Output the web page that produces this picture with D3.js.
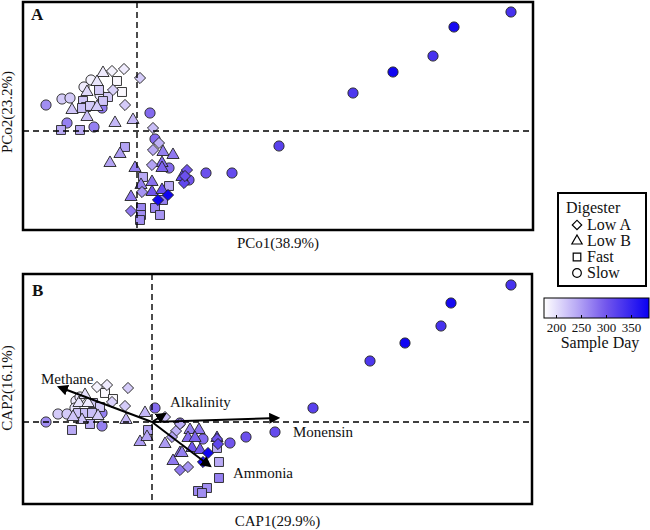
<!DOCTYPE html>
<html><head><meta charset="utf-8">
<script src="https://cdn.jsdelivr.net/npm/d3@7"></script>
<style>body{margin:0;background:#fff}</style>
</head><body><svg id="c" width="650" height="530" font-family="Liberation Serif, DejaVu Serif, serif"></svg>
<script>
// ---------- DATA: [axis1, axis2, sampleDay] ----------
const pcoaLowA = [[-0.25,0.60,185],[-0.13,0.62,190],[0.03,0.53,215],[-0.12,0.26,215],[-0.24,0.41,210],[0.16,0.03,225],[0.22,-0.12,235],[0.16,-0.19,240],[0.15,-0.34,245],[0.50,-0.39,300],[0.47,-0.52,315],[0.48,-0.45,305],[0.31,-0.64,380],[0.21,-0.69,380],[-0.06,-0.80,275],[0.05,-0.61,255]];
const pcoaLowB = [[-0.34,0.58,190],[-0.40,0.49,195],[-0.50,0.39,205],[-0.65,0.21,220],[-0.50,0.14,225],[-0.40,0.24,215],[-0.22,0.08,230],[-0.04,0.11,230],[0.26,-0.21,270],[0.36,-0.24,275],[-0.27,-0.32,245],[-0.17,-0.23,250],[-0.02,-0.37,270],[0.25,-0.32,285],[0.25,-0.37,290],[0.15,-0.51,280],[0.04,-0.54,270],[-0.06,-0.66,275],[0.15,-0.61,300],[0.45,-0.46,320],[0.25,-0.59,310]];
const pcoaFast = [[-0.20,0.50,180],[-0.15,0.39,180],[-0.29,0.34,215],[-0.38,0.41,215],[-0.34,0.30,220],[-0.54,0.30,220],[-0.51,0.24,225],[-0.55,0.23,225],[-0.47,0.25,215],[-0.76,0.01,240],[-0.57,0.01,240],[-0.12,-0.16,245],[0.06,-0.46,240],[0.32,-0.55,240],[0.26,-0.69,270],[0.18,-0.77,265],[0.23,-0.84,255],[0.04,-0.77,265],[0.04,-0.84,260],[0.03,-0.89,260]];
const pcoaSlow = [[-0.91,0.26,260],[-0.75,0.32,215],[-0.67,0.33,215],[-0.46,0.51,185],[-0.53,0.44,190],[-0.37,0.36,195],[-0.70,0.08,270],[-0.43,0.04,270],[-0.35,0.23,275],[0.13,0.18,285],[0.18,-0.08,285],[0.32,-0.37,285],[0.52,-0.49,300],[0.69,-0.42,305],[0.95,-0.42,310],[1.42,-0.15,320],[2.16,0.38,330],[2.56,0.59,380],[2.96,0.75,335],[3.17,1.04,375],[3.74,1.19,335]];

const capLowA = [[-0.55,0.35,185],[-0.45,0.37,190],[-0.24,0.34,215],[-0.27,0.16,215],[-0.40,0.20,210],[0.13,0.05,225],[0.24,-0.09,235],[0.28,-0.02,240],[0.20,-0.15,245],[0.28,-0.48,275],[0.36,-0.45,255],[0.65,-0.17,300],[0.66,-0.22,315],[0.56,-0.31,380],[0.51,-0.40,380]];
const capLowB = [[-0.73,0.19,195],[-0.64,0.19,190],[-0.67,0.27,200],[-0.70,0.02,220],[-0.79,0.05,220],[-0.54,0.06,215],[-0.26,0.02,230],[-0.07,0.09,230],[-0.12,-0.20,250],[-0.05,-0.15,245],[0.13,-0.22,250],[0.38,-0.08,270],[0.47,-0.08,275],[0.36,-0.16,285],[0.43,-0.16,290],[0.28,-0.31,280],[0.21,-0.39,275],[0.40,-0.26,300],[0.48,-0.28,300],[0.65,-0.16,320],[0.30,-0.31,270]];
const capFast = [[-0.47,0.29,180],[-0.39,0.23,180],[-0.59,0.19,215],[-0.52,0.15,215],[-0.74,0.09,220],[-0.67,0.09,225],[-0.60,0.09,225],[-0.62,-0.02,240],[-0.80,-0.08,240],[-0.04,-0.08,245],[0.65,-0.26,240],[0.67,-0.40,240],[0.67,-0.56,270],[0.46,-0.69,265],[0.55,-0.66,260],[0.50,-0.71,260]];
const capSlow = [[-1.06,0.00,260],[-0.94,0.08,215],[-0.85,0.08,215],[-0.76,0.21,190],[-0.72,0.25,190],[-0.77,0.14,195],[-0.50,-0.04,270],[-0.50,0.09,270],[0.03,0.14,285],[0.28,-0.01,285],[0.51,-0.17,285],[0.78,-0.21,300],[0.94,-0.15,305],[1.23,-0.10,310],[1.61,0.14,320],[2.18,0.61,330],[2.53,0.79,380],[2.89,0.96,335],[2.99,1.19,375],[3.59,1.37,335]];

const vectorNames = ["Methane","Alkalinity","Monensin","Ammonia"];
const vectorX = [-0.93, 0.13, 1.26, 0.58];
const vectorY = [0.35, 0.08, 0.04, -0.44];

const digesters = ["Low A","Low B","Fast","Slow"];
const dayTicks = [200,250,300,350];
const dayRange = [175,385];

// ---------- LAYOUT ----------
const svg = d3.select("#c");
const FONT = "Liberation Serif, DejaVu Serif, serif";
const color = d3.scaleLinear().domain([175,240,300,385]).range(["#ffffff","#b9aaf5","#7155ec","#0a00f2"]).interpolate(d3.interpolateRgb);

const shapes = {"Low A":"diamond","Low B":"triangle","Fast":"square","Slow":"circle"};
function symPath(kind, big){
  const k = big ? 1 : 0.72;
  if(kind==="circle") return d3.symbol(d3.symbolCircle, 82*k)();
  if(kind==="square") return d3.symbol(d3.symbolSquare, 80*k)();
  if(kind==="triangle") return d3.symbol(d3.symbolTriangle, 64*k)();
  return d3.symbol(d3.symbolSquare, 62*k)();
}

const panels = [
  {id:"A", box:[23,2,533,230], xd:[-1.14,3.96], yd:[-0.99,1.29], sets:[pcoaSlow,pcoaFast,pcoaLowB,pcoaLowA], xl:"PCo1(38.9%)", yl:"PCo2(23.2%)", xlY:248, ylY:112, lab:[31,20]},
  {id:"B", box:[23,274,532,504], xd:[-1.29,3.80], yd:[-0.82,1.48], sets:[capSlow,capFast,capLowB,capLowA], xl:"CAP1(29.9%)", yl:"CAP2(16.1%)", xlY:526, ylY:388, lab:[32,296]}
];
const setKinds = ["circle","square","triangle","diamond"];

svg.append("defs").append("marker").attr("id","ah").attr("viewBox","0 0 10 10")
  .attr("refX",8).attr("refY",5).attr("markerWidth",5.5).attr("markerHeight",5.5).attr("orient","auto")
  .append("path").attr("d","M0,0L10,5L0,10z").attr("fill","#000");

function txt(g){ return g.append("text").attr("font-family",FONT).attr("fill","#111"); }

panels.forEach(p=>{
  const [x0,y0,x1,y1] = p.box;
  const x = d3.scaleLinear().domain(p.xd).range([x0,x1]);
  const y = d3.scaleLinear().domain(p.yd).range([y1,y0]);
  const g = svg.append("g");
  p.sets.forEach((set,i)=>{
    const kind = setKinds[i];
    g.selectAll(null).data(set).enter().append("path")
      .attr("d", symPath(kind,true))
      .attr("transform", d=>`translate(${x(d[0])},${y(d[1])})` + (kind==="diamond"?" rotate(45)":""))
      .attr("fill", d=>color(d[2])).attr("stroke","#222").attr("stroke-width",0.9);
  });
  g.append("line").attr("x1",x0).attr("x2",x1).attr("y1",y(0)).attr("y2",y(0))
    .attr("stroke","#000").attr("stroke-width",1.4).attr("stroke-dasharray","6,4");
  g.append("line").attr("x1",x(0)).attr("x2",x(0)).attr("y1",y0).attr("y2",y1)
    .attr("stroke","#000").attr("stroke-width",1.4).attr("stroke-dasharray","6,4");
  if(p.id==="B"){
    const off = [[-18,-3],[5,-7],[15,19],[23,12]];
    vectorNames.forEach((n,i)=>{
      g.append("line").attr("x1",x(0)).attr("y1",y(0)).attr("x2",x(vectorX[i])).attr("y2",y(vectorY[i]))
        .attr("stroke","#000").attr("stroke-width",2).attr("marker-end","url(#ah)");
      txt(g).attr("x",x(vectorX[i])+off[i][0]).attr("y",y(vectorY[i])+off[i][1])
        .attr("font-size",15).text(n);
    });
  }
  g.append("rect").attr("x",x0).attr("y",y0).attr("width",x1-x0).attr("height",y1-y0)
    .attr("fill","none").attr("stroke","#000").attr("stroke-width",2.5);
  txt(g).attr("x",p.lab[0]).attr("y",p.lab[1]).attr("font-size",17).attr("font-weight","bold").text(p.id);
  txt(g).attr("x",(x0+x1)/2).attr("y",p.xlY).attr("text-anchor","middle").attr("font-size",15).text(p.xl);
  txt(g).attr("transform",`translate(12,${p.ylY}) rotate(-90)`).attr("text-anchor","middle").attr("font-size",15).text(p.yl);
});

// legend
const lg = svg.append("g");
lg.append("rect").attr("x",558).attr("y",193).attr("width",88).attr("height",93).attr("fill","#fff").attr("stroke","#000").attr("stroke-width",2);
txt(lg).attr("x",566).attr("y",213).attr("font-size",16).text("Digester");
digesters.forEach((d,i)=>{
  const cy = 225 + i*16;
  lg.append("path").attr("d",symPath(shapes[d],false))
    .attr("transform",`translate(577,${cy})`+(shapes[d]==="diamond"?" rotate(45)":""))
    .attr("fill","none").attr("stroke","#000").attr("stroke-width",1.2);
  txt(lg).attr("x",587).attr("y",cy+5).attr("font-size",16).text(d);
});

// colorbar
const grad = svg.select("defs").append("linearGradient").attr("id","cb");
d3.range(0,1.0001,0.05).forEach(t=>{
  const v = dayRange[0]+t*(dayRange[1]-dayRange[0]);
  grad.append("stop").attr("offset",t).attr("stop-color",color(v));
});
const cx = d3.scaleLinear().domain(dayRange).range([544,649]);
svg.append("rect").attr("x",544).attr("y",298).attr("width",105).attr("height",20).attr("fill","url(#cb)").attr("stroke","#000").attr("stroke-width",1);
dayTicks.forEach(t=>{
  svg.append("line").attr("x1",cx(t)).attr("x2",cx(t)).attr("y1",318).attr("y2",315).attr("stroke","#000");
  txt(svg).attr("x",cx(t)).attr("y",332).attr("text-anchor","middle").attr("font-size",13).text(t);
});
txt(svg).attr("x",600).attr("y",348).attr("text-anchor","middle").attr("font-size",16).text("Sample Day");
</script></body></html>
